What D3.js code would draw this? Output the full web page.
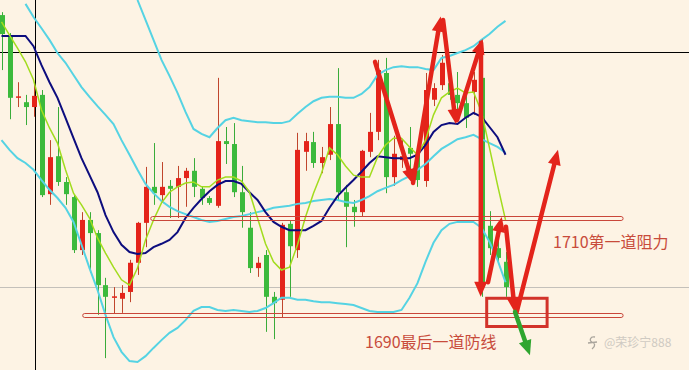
<!DOCTYPE html>
<meta charset="utf-8">
<style>

body {
    margin: 0;
    background: #fdf3e4;
}

svg {
    display: block;
}

.label {
    font: 16px "Noto Sans CJK SC", sans-serif;
    fill: #c84b3b;
}

.watermark {
    font: 12px "Noto Sans CJK SC", sans-serif;
    fill: #cfcac2;
}

</style>
<body>
<script src="https://cdnjs.cloudflare.com/ajax/libs/d3/7.8.5/d3.min.js"></script>
<script>

// candles (price units)
var open = [1751.7,1747.2,1734.7,1733.8,1732.8,1735.3,1714.9,1722.7,1717.4,1714.3,
    1703.4,1709.6,1706.9,1696.2,1693.7,1693.4,1694.8,1700.8,1709.0,1716.4,
    1714.7,1716.6,1716.4,1718.2,1719.7,1716.0,1714.1,1712.5,1725.8,1725.2,
    1715.3,1708.0,1699.7,1702.4,1693.8,1693.2,1708.8,1703.4,1723.6,1725.6,
    1721.3,1723.0,1729.3,1715.3,1712.3,1711.2,1723.6,1727.7,1739.8,1718.4,
    1721.9,1724.4,1723.0,1717.6,1734.3,1737.3,1737.7,1735.3,1733.6,1735.9,
    1738.8,1708.4,1703.8,1701.0];
var high = [1752.3,1748.0,1737.9,1735.3,1737.9,1736.3,1726.0,1732.8,1718.4,1714.7,
    1711.2,1711.2,1707.5,1697.7,1695.8,1696.2,1701.4,1709.2,1720.5,1725.4,
    1721.5,1717.8,1720.7,1720.3,1722.3,1716.4,1714.5,1738.8,1728.7,1729.5,
    1720.7,1711.2,1702.0,1703.4,1694.8,1709.0,1709.4,1727.5,1727.5,1727.7,
    1724.6,1732.8,1740.8,1716.8,1713.7,1724.0,1731.6,1742.5,1742.9,1726.9,
    1726.0,1728.7,1724.0,1739.8,1737.7,1743.5,1740.0,1740.0,1735.3,1740.0,
    1742.5,1711.4,1705.5,1703.0];
var low = [1740.4,1730.3,1732.8,1729.1,1730.8,1714.3,1712.7,1716.6,1712.7,1702.8,
    1702.4,1698.7,1690.1,1681.2,1690.3,1690.5,1692.7,1698.3,1704.0,1712.7,
    1713.1,1710.0,1710.0,1712.3,1714.3,1712.7,1712.7,1712.1,1721.1,1714.3,
    1708.0,1698.7,1697.9,1686.6,1685.1,1689.5,1693.8,1701.8,1719.7,1720.3,
    1719.2,1721.9,1713.7,1704.0,1708.2,1710.4,1722.5,1726.0,1715.1,1716.6,
    1720.3,1717.8,1716.4,1716.4,1733.0,1736.3,1734.3,1731.8,1728.5,1731.2,
    1693.8,1702.4,1701.0,1693.8];
var close = [1747.8,1734.7,1735.0,1732.8,1735.1,1714.7,1722.5,1717.4,1714.9,1703.4,
    1709.6,1706.9,1696.2,1693.8,1693.9,1694.6,1700.8,1709.0,1716.4,1715.1,
    1716.4,1716.0,1718.2,1719.7,1716.4,1714.1,1713.1,1725.8,1725.2,1715.3,
    1711.2,1699.7,1700.8,1693.8,1692.5,1708.6,1704.2,1724.0,1725.8,1721.3,
    1722.5,1729.3,1715.3,1712.3,1711.2,1723.8,1727.7,1740.4,1718.4,1723.2,
    1722.7,1723.2,1717.8,1736.3,1736.7,1741.9,1735.3,1733.6,1730.6,1738.4,
    1695.8,1703.8,1701.8,1695.8];

// indicator lines, one value per candle
var maFast = [1750.3,1747.6,1744.9,1742.1,1738.4,1732.2,1728.5,1725.4,1719.9,1715.1,
    1712.7,1710.0,1705.9,1702.8,1699.9,1697.3,1696.2,1699.7,1705.5,1709.6,
    1713.1,1715.3,1716.4,1717.2,1717.4,1716.4,1716.4,1717.8,1718.4,1718.4,
    1717.6,1715.3,1710.0,1704.7,1701.0,1699.3,1699.9,1704.5,1710.2,1715.1,
    1719.2,1724.4,1723.0,1720.7,1718.8,1718.4,1718.4,1722.5,1725.0,1726.4,
    1726.4,1724.6,1723.0,1726.0,1731.2,1734.7,1735.9,1736.7,1735.7,1735.9,
    1731.8,1724.4,1716.8,1709.6];
var maSlow = [1747.4,1747.4,1747.4,1747.4,1745.3,1741.4,1737.9,1734.7,1730.6,1726.4,
    1722.3,1718.8,1715.3,1710.6,1707.1,1704.5,1703.0,1702.6,1702.8,1704.0,
    1704.7,1705.5,1707.1,1710.0,1712.1,1713.9,1715.5,1716.8,1717.6,1717.6,
    1717.0,1715.3,1713.7,1711.2,1709.2,1708.2,1707.5,1707.5,1707.5,1708.4,
    1709.4,1712.1,1714.5,1716.2,1717.8,1719.5,1721.3,1722.7,1722.5,1722.3,
    1722.3,1722.3,1723.0,1725.0,1727.7,1729.1,1729.5,1729.3,1730.6,1731.6,
    1730.8,1728.7,1726.6,1723.0];
var upperBand = [null,null,null,null,null,null,null,null,null,null,
    null,null,null,null,null,null,null,1754.8,1750.7,1746.6,
    1742.5,1739.2,1735.7,1731.8,1728.3,1727.3,1726.6,1728.5,1730.1,1730.6,
    1730.1,1729.9,1729.7,1729.7,1729.5,1729.5,1729.9,1731.4,1732.8,1734.0,
    1734.7,1734.9,1734.9,1734.7,1734.7,1735.5,1736.9,1739.4,1740.4,1741.0,
    1741.2,1741.0,1741.0,1740.6,1740.4,1742.9,1743.3,1743.9,1744.5,1745.3,
    1746.6,1747.8,1749.3,1750.5];
var middleBand = [null,null,null,1754.0,1751.3,1749.0,1746.6,1743.9,1741.9,1739.4,
    1736.9,1734.9,1733.0,1731.2,1729.3,1726.0,1723.0,1719.9,1717.0,1715.1,
    1713.5,1712.3,1711.4,1710.8,1710.2,1709.6,1709.2,1709.4,1709.8,1710.2,
    1710.4,1710.8,1711.2,1711.6,1712.1,1712.3,1712.5,1712.9,1713.1,1713.5,
    1713.7,1713.9,1713.7,1713.3,1713.1,1713.7,1714.5,1715.5,1716.2,1716.8,
    1717.8,1718.6,1719.9,1721.1,1722.7,1724.2,1725.2,1726.2,1726.6,1727.1,
    1726.2,1725.4,1724.6,1723.4];
var lowerBand = [1726.0,1724.0,1722.3,1721.3,1719.9,1717.8,1715.8,1714.1,1712.1,1709.2,
    1704.5,1699.7,1695.2,1690.1,1685.5,1682.5,1680.6,1680.4,1681.6,1683.3,
    1684.9,1686.4,1687.4,1689.0,1690.9,1691.7,1691.7,1691.1,1690.9,1691.1,
    1690.9,1690.7,1690.9,1691.5,1692.5,1693.6,1693.6,1693.2,1693.2,1692.9,
    1692.7,1692.7,1692.5,1692.3,1692.1,1691.5,1690.9,1690.7,1690.7,1690.7,
    1691.1,1693.6,1696.6,1701.0,1704.9,1707.5,1708.8,1709.2,1709.2,1709.2,
    1708.0,1705.1,1701.4,1696.8];

// levels and labels
var levels = [1710, 1690];
var levelLabels = ["1710第一道阻力", "1690最后一道防线"];
var crossPrice = 1744.1, crossIndex = 4.2, lastPrice = 1695.8;
var watermarkText = "@荣珍宁888";

var width = 689,
    height = 370;

var x = d3.scaleLinear()
    .domain([0, 86])
    .range([1.5, 689.5]);

var y = d3.scaleLinear()
    .domain([1678.76, 1754.8])
    .range([height, 0]);

var svg = d3.select("body").append("svg")
    .attr("width", width)
    .attr("height", height);

svg.append("rect")
    .attr("width", width)
    .attr("height", height)
    .attr("fill", "#fdf3e4");

// grey price line and crosshair
svg.append("line")
    .attr("x1", 0).attr("x2", width)
    .attr("y1", Math.round(y(lastPrice)) + 0.5).attr("y2", Math.round(y(lastPrice)) + 0.5)
    .attr("stroke", "#c4c0ba");

svg.append("line")
    .attr("x1", 0).attr("x2", width)
    .attr("y1", Math.round(y(crossPrice)) + 0.5).attr("y2", Math.round(y(crossPrice)) + 0.5)
    .attr("stroke", "#000");

svg.append("line")
    .attr("x1", Math.round(x(crossIndex)) + 0.5).attr("x2", Math.round(x(crossIndex)) + 0.5)
    .attr("y1", 0).attr("y2", height)
    .attr("stroke", "#000");

// candles
var candles = open.map(function(o, i) {
    return {i: i, o: o, h: high[i], l: low[i], c: close[i]};
});

var g = svg.selectAll(".candle")
    .data(candles)
    .enter().append("g")
    .attr("class", "candle");

g.append("line")
    .attr("x1", d => Math.round(x(d.i)) + 0.5)
    .attr("x2", d => Math.round(x(d.i)) + 0.5)
    .attr("y1", d => y(d.h))
    .attr("y2", d => y(d.l))
    .attr("stroke", d => d.c >= d.o ? "#c0452c" : "#3aac3a");

g.append("rect")
    .attr("x", d => Math.round(x(d.i)) - 2)
    .attr("width", 5)
    .attr("y", d => y(Math.max(d.o, d.c)))
    .attr("height", d => Math.max(1.5, Math.abs(y(d.o) - y(d.c))))
    .attr("fill", d => d.c >= d.o ? "#e4231a" : "#3cba3c");

// indicator lines
var line = d3.line()
    .defined(d => d != null)
    .x((d, i) => x(i))
    .y(d => y(d));

[upperBand, middleBand, lowerBand].forEach(function(band) {
    svg.append("path")
        .datum(band)
        .attr("d", line)
        .attr("fill", "none")
        .attr("stroke", "#55d3e3")
        .attr("stroke-width", 2);
});

svg.append("path")
    .datum(maSlow)
    .attr("d", line)
    .attr("fill", "none")
    .attr("stroke", "#0d0d7e")
    .attr("stroke-width", 2);

svg.append("path")
    .datum(maFast)
    .attr("d", line)
    .attr("fill", "none")
    .attr("stroke", "#a2dc1e")
    .attr("stroke-width", 1.5);

// level bands
var levelStart = [18.65, 10.15];
svg.selectAll(".level")
    .data(levels)
    .enter().append("rect")
    .attr("class", "level")
    .attr("x", (d, i) => x(levelStart[i]))
    .attr("width", (d, i) => x(77.7) - x(levelStart[i]))
    .attr("y", d => Math.round(y(d)) - 1.5)
    .attr("height", 4)
    .attr("rx", 2)
    .attr("fill", "none")
    .attr("stroke", "#c9463a");

// target box
svg.append("rect")
    .attr("x", x(60.65))
    .attr("width", x(68.2) - x(60.65))
    .attr("y", y(1693.5))
    .attr("height", y(1687.7) - y(1693.5))
    .attr("fill", "none")
    .attr("stroke", "#d2332a")
    .attr("stroke-width", 3);

// hand drawn arrows
var arrows = [
    {pts: [[46.69, 1742.1], [51.44, 1717.0]], color: "#e3241b"},
    {pts: [[51.44, 1717.2], [54.9, 1751.4]], color: "#e3241b"},
    {pts: [[55.2, 1750.7], [56.8, 1729.3]], color: "#e3241b"},
    {pts: [[56.94, 1730.1], [60.15, 1746.8]], color: "#e3241b"},
    {pts: [[59.94, 1746.0], [59.9, 1693.8]], color: "#e3241b"},
    {pts: [[60.81, 1696.8], [62.53, 1710.2]], color: "#e3241b"},
    {pts: [[63.06, 1708.2], [64.19, 1690.5]], color: "#e3241b"},
    {pts: [[64.4, 1690.7], [69.56, 1724.0]], color: "#e3241b"},
    {pts: [[64.19, 1690.7], [66.06, 1681.8]], color: "#2fa52f"}
];

arrows.forEach(function(a) {
    var x0 = x(a.pts[0][0]), y0 = y(a.pts[0][1]),
        x1 = x(a.pts[1][0]), y1 = y(a.pts[1][1]);
    var dx = x1 - x0, dy = y1 - y0, len = Math.sqrt(dx * dx + dy * dy);
    var ux = dx / len, uy = dy / len;
    var headLen = 15, headW = 6.5;
    var bx = x1 - ux * headLen, by = y1 - uy * headLen;
    svg.append("line")
        .attr("x1", x0).attr("y1", y0)
        .attr("x2", bx + ux * 2).attr("y2", by + uy * 2)
        .attr("stroke", a.color)
        .attr("stroke-width", 4.5)
        .attr("stroke-linecap", "round");
    svg.append("path")
        .attr("d", "M" + x1 + "," + y1 +
            "L" + (bx - uy * headW) + "," + (by + ux * headW) +
            "L" + (bx + uy * headW) + "," + (by - ux * headW) + "Z")
        .attr("fill", a.color);
});

// labels
svg.append("text")
    .attr("class", "label")
    .attr("x", 553)
    .attr("y", 248)
    .text(levelLabels[0]);

svg.append("text")
    .attr("class", "label")
    .attr("x", 365)
    .attr("y", 348)
    .text(levelLabels[1]);

// watermark
svg.append("path")
    .attr("d", "M595,337 C590,336 589,341 592,342 C595,343 596,346 592,349 M588,343 L597,342")
    .attr("fill", "none")
    .attr("stroke", "#a9a49c")
    .attr("stroke-width", 1.3);

svg.append("text")
    .attr("class", "watermark")
    .attr("x", 604)
    .attr("y", 347)
    .text(watermarkText);

</script>
